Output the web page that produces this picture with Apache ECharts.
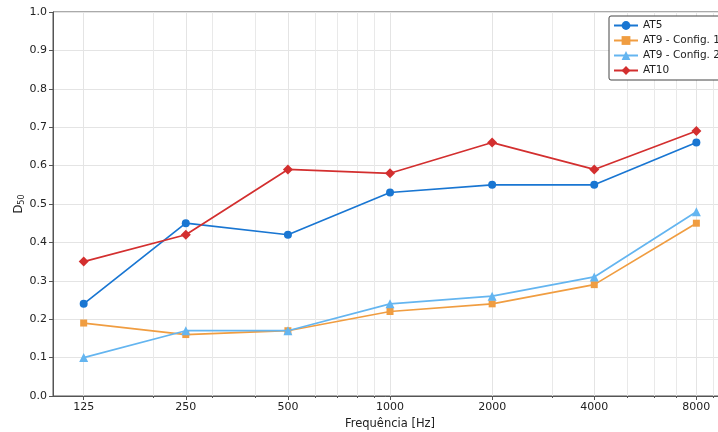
<!DOCTYPE html>
<html><head><meta charset="utf-8">
<script src="https://cdn.jsdelivr.net/npm/echarts@6/dist/echarts.min.js"></script>
<style>html,body{margin:0;padding:0;background:#fff}#c{width:718px;height:432px}</style>
</head><body><div id="c"></div>
<script>
const freqs = [125, 250, 500, 1000, 2000, 4000, 8000];
const majorTicks = [125, 250, 500, 1000, 2000, 4000, 8000];
const minorTicks = [200, 300, 400, 600, 700, 800, 900, 3000, 5000, 6000, 7000, 9000];
const seriesNames = ['AT5', 'AT9 - Config. 1', 'AT9 - Config. 2', 'AT10'];
const at5 = [0.24, 0.45, 0.42, 0.53, 0.55, 0.55, 0.66];
const at9c1 = [0.19, 0.16, 0.17, 0.22, 0.24, 0.29, 0.45];
const at9c2 = [0.10, 0.17, 0.17, 0.24, 0.26, 0.31, 0.48];
const at10 = [0.35, 0.42, 0.59, 0.58, 0.66, 0.59, 0.69];

const FONT = 'DejaVu Sans';
const colors = ['#1976D2', '#F09D41', '#64B5F0', '#D32F2F'];
const symbols = ['circle', 'rect', 'triangle', 'diamond'];
const sizes = [8, 7, 9, 10];
const values = [at5, at9c1, at9c2, at10];

const chart = echarts.init(document.getElementById('c'), null, {renderer: 'canvas'});
chart.setOption({
  animation: false,
  backgroundColor: '#fff',
  textStyle: {fontFamily: FONT},
  grid: {left: 53, right: -9, top: 12, bottom: 36, show: true, borderColor: '#555', borderWidth: 1,
    outerBoundsMode: 'none', containLabel: false},
  legend: {
    orient: 'vertical', left: 609, top: 16,
    padding: [3, 12, 3, 4], itemGap: 2, itemWidth: 24, itemHeight: 11,
    backgroundColor: '#fff', borderColor: '#444', borderWidth: 1, borderRadius: 2,
    textStyle: {fontFamily: FONT, fontSize: 10.5, color: '#222', lineHeight: 13},
    data: seriesNames
  },
  xAxis: [{
    type: 'log', logBase: 10, min: 101.5, max: 9849,
    name: 'Frequência [Hz]', nameLocation: 'middle', nameGap: 19,
    nameTextStyle: {fontFamily: FONT, fontSize: 11.5, color: '#222'},
    axisLine: {show: true, lineStyle: {color: '#555', width: 1}},
    axisTick: {show: true, length: 4, customValues: majorTicks, lineStyle: {color: '#555'}},
    axisLabel: {customValues: majorTicks, fontFamily: FONT, fontSize: 11, color: '#222', margin: 6,
      formatter: v => String(Math.round(v))},
    splitLine: {show: true, lineStyle: {color: '#e4e4e4', width: 1}},
    minorTick: {show: false}
  }, {
    type: 'log', logBase: 10, min: 101.5, max: 9849, position: 'bottom',
    axisLine: {show: false},
    axisTick: {show: true, length: 2, customValues: minorTicks, lineStyle: {color: '#555'}},
    axisLabel: {show: false, customValues: minorTicks},
    splitLine: {show: true, lineStyle: {color: '#e9e9e9', width: 1}}
  }],
  yAxis: {
    type: 'value', min: 0, max: 1, interval: 0.1,
    name: 'D{s|50}', nameLocation: 'middle', nameGap: 27, nameRotate: 90, nameMoveOverlap: false,
    nameTextStyle: {fontFamily: FONT, fontSize: 11.5, color: '#222',
      rich: {s: {fontFamily: FONT, fontSize: 8, color: '#222', verticalAlign: 'bottom', padding: [6, 0, 0, 0]}}},
    axisLine: {show: true, lineStyle: {color: '#555', width: 1}},
    axisTick: {show: true, length: 4, lineStyle: {color: '#555'}},
    axisLabel: {fontFamily: FONT, fontSize: 11, color: '#222', margin: 6, formatter: v => v.toFixed(1)},
    splitLine: {show: true, lineStyle: {color: '#e4e4e4', width: 1}}
  },
  series: seriesNames.map((n, k) => ({
    name: n, type: 'line', xAxisIndex: 0,
    data: freqs.map((f, i) => [f, values[k][i]]),
    symbol: symbols[k], symbolSize: sizes[k], showSymbol: true,
    lineStyle: {color: colors[k], width: 1.7},
    itemStyle: {color: colors[k]},
    z: 3 + k
  }))
});
</script></body></html>
